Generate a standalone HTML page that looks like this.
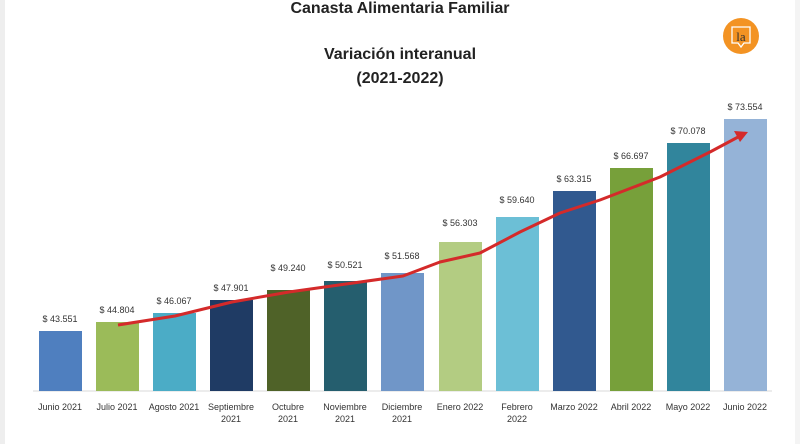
<!DOCTYPE html>
<html><head><meta charset="utf-8"><style>
body{margin:0;background:#fff;}
svg{display:block;font-family:"Liberation Sans",sans-serif;}
</style></head><body>
<svg width="800" height="444" viewBox="0 0 800 444">
<rect x="0" y="0" width="800" height="444" fill="#fff"/>
<rect x="0" y="0" width="5" height="444" fill="#eeeeee"/>
<rect x="795" y="0" width="5" height="444" fill="#f4f4f4"/>
<text x="400" y="13" text-anchor="middle" font-size="16" font-weight="bold" fill="#222">Canasta Alimentaria Familiar</text>
<text x="400" y="59" text-anchor="middle" font-size="16" font-weight="bold" fill="#222">Variación interanual</text>
<text x="400" y="83" text-anchor="middle" font-size="16" font-weight="bold" fill="#222">(2021-2022)</text>
<circle cx="741" cy="36" r="18" fill="#f39323"/>
<path d="M732 27h18v16h-6l-3 4l-3-4h-6z" fill="none" stroke="#fff" stroke-width="1.3"/>
<text x="741" y="41" text-anchor="middle" font-size="13" fill="#333" font-family="Liberation Serif,serif">la</text>
<line x1="33" y1="391" x2="772" y2="391" stroke="#d9d9d9" stroke-width="1"/>
<g font-size="9" fill="#333" text-anchor="middle">
<rect x="39" y="331" width="43" height="60" fill="#4f7fbf"/><text x="60" y="322">$ 43.551</text>
<rect x="96" y="322" width="43" height="69" fill="#9bbb59"/><text x="117" y="313">$ 44.804</text>
<rect x="153" y="313" width="43" height="78" fill="#4bacc6"/><text x="174" y="304">$ 46.067</text>
<rect x="210" y="300" width="43" height="91" fill="#1f3b64"/><text x="231" y="291">$ 47.901</text>
<rect x="267" y="290" width="43" height="101" fill="#4f6228"/><text x="288" y="271">$ 49.240</text>
<rect x="324" y="281" width="43" height="110" fill="#255e6e"/><text x="345" y="268">$ 50.521</text>
<rect x="381" y="273" width="43" height="118" fill="#7096c8"/><text x="402" y="259">$ 51.568</text>
<rect x="439" y="242" width="43" height="149" fill="#b3cc82"/><text x="460" y="226">$ 56.303</text>
<rect x="496" y="217" width="43" height="174" fill="#6cbfd6"/><text x="517" y="203">$ 59.640</text>
<rect x="553" y="191" width="43" height="200" fill="#31598f"/><text x="574" y="182">$ 63.315</text>
<rect x="610" y="168" width="43" height="223" fill="#77a03a"/><text x="631" y="159">$ 66.697</text>
<rect x="667" y="143" width="43" height="248" fill="#31859c"/><text x="688" y="134">$ 70.078</text>
<rect x="724" y="119" width="43" height="272" fill="#95b3d7"/><text x="745" y="110">$ 73.554</text>
</g>
<polyline points="118,325 175,316 232,302 289,292 346,284 403,276 440,262 480,253 520,232 560,213 600,200 660,177 710,152 740,136" fill="none" stroke="#d42a2a" stroke-width="3" stroke-linejoin="round"/>
<path d="M748,132 L734,131 L740,142 Z" fill="#d42a2a"/>
<g font-size="9" fill="#333" text-anchor="middle">
<text x="60" y="410">Junio 2021</text>
<text x="117" y="410">Julio 2021</text>
<text x="174" y="410">Agosto 2021</text>
<text x="231" y="410">Septiembre</text><text x="231" y="422">2021</text>
<text x="288" y="410">Octubre</text><text x="288" y="422">2021</text>
<text x="345" y="410">Noviembre</text><text x="345" y="422">2021</text>
<text x="402" y="410">Diciembre</text><text x="402" y="422">2021</text>
<text x="460" y="410">Enero 2022</text>
<text x="517" y="410">Febrero</text><text x="517" y="422">2022</text>
<text x="574" y="410">Marzo 2022</text>
<text x="631" y="410">Abril 2022</text>
<text x="688" y="410">Mayo 2022</text>
<text x="745" y="410">Junio 2022</text>
</g>
</svg>
</body></html>
